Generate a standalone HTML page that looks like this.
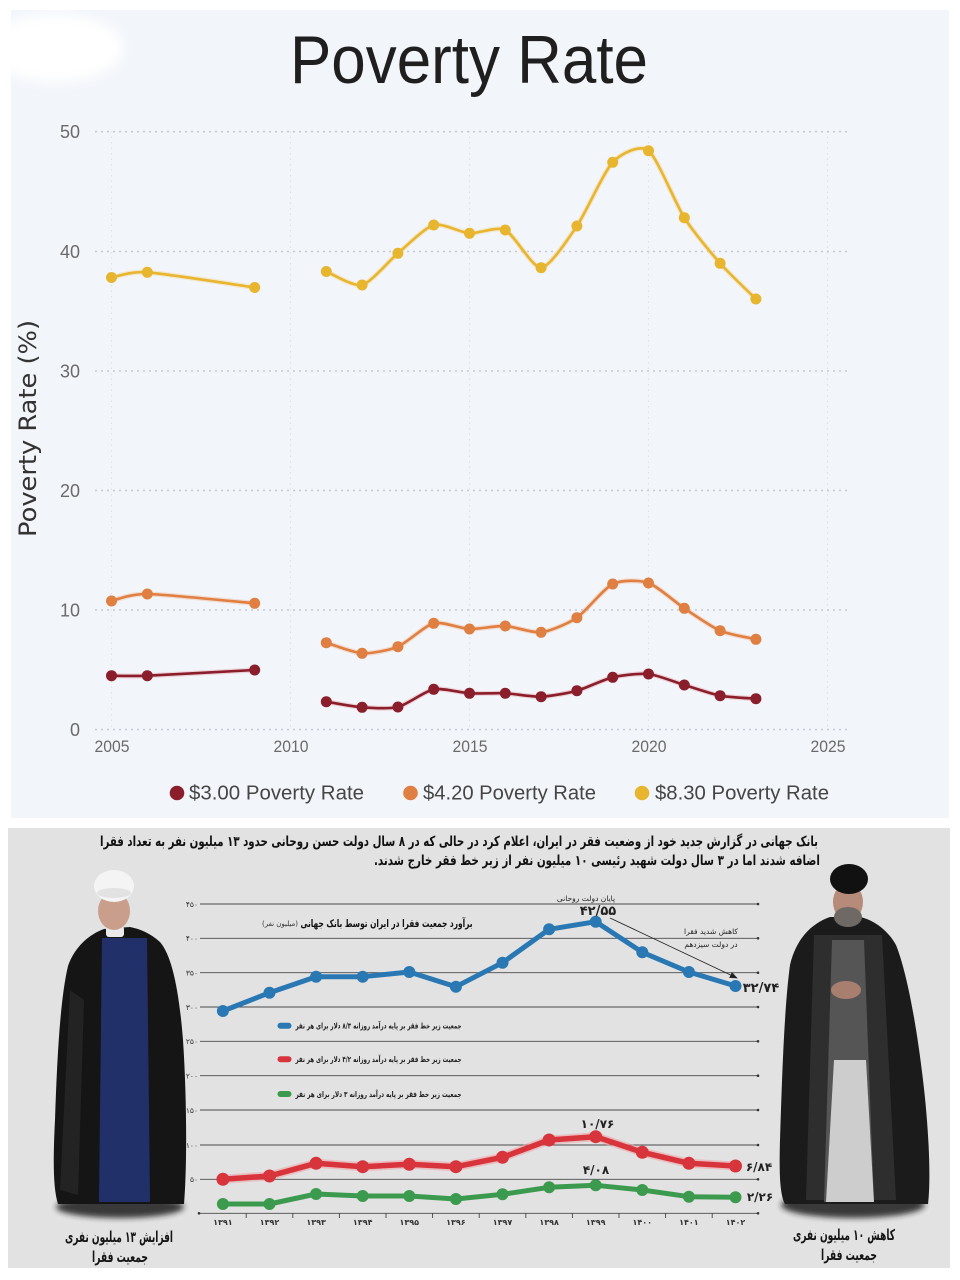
<!DOCTYPE html>
<html><head><meta charset="utf-8">
<style>
html,body{margin:0;padding:0;background:#fff;}
svg{display:block;}
.fa{font-family:"DejaVu Sans","Noto Sans CJK SC",sans-serif;}
.la{font-family:"Liberation Sans",sans-serif;}
</style></head>
<body>
<svg id="s" width="960" height="1280" viewBox="0 0 960 1280" xmlns="http://www.w3.org/2000/svg">
<defs>
  <filter id="bl" x="-50%" y="-50%" width="200%" height="200%"><feGaussianBlur stdDeviation="6"/></filter>
  <filter id="bl2" x="-50%" y="-50%" width="200%" height="200%"><feGaussianBlur stdDeviation="3"/></filter>
  <marker id="mY" viewBox="-7 -7 14 14" markerWidth="14" markerHeight="14" markerUnits="userSpaceOnUse"><circle r="5.5" fill="#e8b52f"/></marker>
  <marker id="mO" viewBox="-7 -7 14 14" markerWidth="14" markerHeight="14" markerUnits="userSpaceOnUse"><circle r="5.5" fill="#df7f41"/></marker>
  <marker id="mR" viewBox="-7 -7 14 14" markerWidth="14" markerHeight="14" markerUnits="userSpaceOnUse"><circle r="5.5" fill="#8a1e2b"/></marker>
  <marker id="mB" viewBox="-8 -8 16 16" markerWidth="16" markerHeight="16" markerUnits="userSpaceOnUse"><circle r="6" fill="#2a78b3"/></marker>
  <marker id="mRd" viewBox="-8 -8 16 16" markerWidth="16" markerHeight="16" markerUnits="userSpaceOnUse"><circle r="6.5" fill="#d8343c"/></marker>
  <marker id="mG" viewBox="-8 -8 16 16" markerWidth="16" markerHeight="16" markerUnits="userSpaceOnUse"><circle r="6" fill="#3c9a4f"/></marker>
  <marker id="arr" viewBox="0 0 10 10" refX="9" refY="5" markerWidth="8" markerHeight="8" orient="auto" markerUnits="userSpaceOnUse"><path d="M0,1 L10,5 L0,9 Z" fill="#222"/></marker>
</defs>

<!-- top panel -->
<rect x="0" y="0" width="960" height="1280" fill="#ffffff"/>
<rect x="11" y="10" width="938" height="808" fill="#f2f5fa"/>
<ellipse cx="55" cy="48" rx="68" ry="34" fill="#ffffff" filter="url(#bl)"/>
<rect x="0" y="70" width="11" height="750" fill="#fff"/>

<text x="469" y="83" class="la" font-size="68" fill="#1f1f1f" text-anchor="middle" textLength="358" lengthAdjust="spacingAndGlyphs">Poverty Rate</text>

<!-- vertical grid -->
<g stroke="#dde2ea" stroke-width="1.2" stroke-dasharray="1.5 4">
  <line x1="111.5" y1="131" x2="111.5" y2="729"/>
  <line x1="290.5" y1="131" x2="290.5" y2="729"/>
  <line x1="469.5" y1="131" x2="469.5" y2="729"/>
  <line x1="648.5" y1="131" x2="648.5" y2="729"/>
  <line x1="827.5" y1="131" x2="827.5" y2="729"/>
</g>
<!-- horizontal grid -->
<g stroke="#c4c9d3" stroke-width="1.6" stroke-dasharray="2 4">
  <line x1="95" y1="131.7" x2="848" y2="131.7"/>
  <line x1="95" y1="251.5" x2="848" y2="251.5"/>
  <line x1="95" y1="371" x2="848" y2="371"/>
  <line x1="95" y1="490.5" x2="848" y2="490.5"/>
  <line x1="95" y1="610" x2="848" y2="610"/>
  <line x1="95" y1="729.5" x2="848" y2="729.5"/>
</g>
<g class="la" font-size="18" fill="#6a6a6a" text-anchor="end">
  <text x="80" y="138">50</text>
  <text x="80" y="258">40</text>
  <text x="80" y="377.5">30</text>
  <text x="80" y="497">20</text>
  <text x="80" y="616.5">10</text>
  <text x="80" y="736">0</text>
</g>
<g class="la" font-size="17" fill="#6a6a6a" text-anchor="middle">
  <text x="112" y="752" textLength="35" lengthAdjust="spacingAndGlyphs">2005</text>
  <text x="291" y="752" textLength="35" lengthAdjust="spacingAndGlyphs">2010</text>
  <text x="470" y="752" textLength="35" lengthAdjust="spacingAndGlyphs">2015</text>
  <text x="649" y="752" textLength="35" lengthAdjust="spacingAndGlyphs">2020</text>
  <text x="828" y="752" textLength="35" lengthAdjust="spacingAndGlyphs">2025</text>
</g>
<text transform="translate(36,428.5) rotate(-90)" font-family="DejaVu Sans, sans-serif" font-size="24" fill="#333" text-anchor="middle" textLength="217" lengthAdjust="spacingAndGlyphs">Poverty Rate (%)</text>

<!-- series -->
<g fill="none" stroke-linejoin="round" stroke-linecap="round">
  <polyline class="sp" stroke="#f3d89a" stroke-width="5" opacity="0.5" points="111.5,277.5 147.3,272.3 254.7,287.5"/>
  <polyline class="sp" stroke="#f3d89a" stroke-width="5" opacity="0.5" points="326.3,271.5 362.1,285 397.9,253.3 433.7,225 469.5,233.3 505.3,230 541.1,267.7 576.9,226 612.7,162.3 648.5,150.7 684.3,217.7 720.1,263.3 755.9,299"/>
  <polyline class="sp" stroke="#e8b52f" stroke-width="2.6" marker-start="url(#mY)" marker-mid="url(#mY)" marker-end="url(#mY)" points="111.5,277.5 147.3,272.3 254.7,287.5"/>
  <polyline class="sp" stroke="#e8b52f" stroke-width="2.6" marker-start="url(#mY)" marker-mid="url(#mY)" marker-end="url(#mY)" points="326.3,271.5 362.1,285 397.9,253.3 433.7,225 469.5,233.3 505.3,230 541.1,267.7 576.9,226 612.7,162.3 648.5,150.7 684.3,217.7 720.1,263.3 755.9,299"/>

  <polyline class="sp" stroke="#f1c0a0" stroke-width="5" opacity="0.5" points="111.5,601 147.3,594 254.7,603.3"/>
  <polyline class="sp" stroke="#f1c0a0" stroke-width="5" opacity="0.5" points="326.3,642.7 362.1,653.3 397.9,646.7 433.7,623.3 469.5,629 505.3,626 541.1,632.3 576.9,617.7 612.7,584 648.5,583 684.3,608.3 720.1,630.7 755.9,639.3"/>
  <polyline class="sp" stroke="#df7f41" stroke-width="2.6" marker-start="url(#mO)" marker-mid="url(#mO)" marker-end="url(#mO)" points="111.5,601 147.3,594 254.7,603.3"/>
  <polyline class="sp" stroke="#df7f41" stroke-width="2.6" marker-start="url(#mO)" marker-mid="url(#mO)" marker-end="url(#mO)" points="326.3,642.7 362.1,653.3 397.9,646.7 433.7,623.3 469.5,629 505.3,626 541.1,632.3 576.9,617.7 612.7,584 648.5,583 684.3,608.3 720.1,630.7 755.9,639.3"/>

  <polyline class="sp" stroke="#e6a7ad" stroke-width="5" opacity="0.45" points="111.5,675.7 147.3,675.7 254.7,670"/>
  <polyline class="sp" stroke="#e6a7ad" stroke-width="5" opacity="0.45" points="326.3,701.7 362.1,707.3 397.9,707 433.7,689.3 469.5,693.3 505.3,693.3 541.1,696.7 576.9,690.7 612.7,677.3 648.5,674 684.3,685 720.1,695.7 755.9,698.7"/>
  <polyline class="sp" stroke="#8a1e2b" stroke-width="2.6" marker-start="url(#mR)" marker-mid="url(#mR)" marker-end="url(#mR)" points="111.5,675.7 147.3,675.7 254.7,670"/>
  <polyline class="sp" stroke="#8a1e2b" stroke-width="2.6" marker-start="url(#mR)" marker-mid="url(#mR)" marker-end="url(#mR)" points="326.3,701.7 362.1,707.3 397.9,707 433.7,689.3 469.5,693.3 505.3,693.3 541.1,696.7 576.9,690.7 612.7,677.3 648.5,674 684.3,685 720.1,695.7 755.9,698.7"/>
</g>

<!-- legend -->
<circle cx="177" cy="793" r="7.3" fill="#8a1e2b"/>
<circle cx="410.5" cy="793" r="7.3" fill="#df7f41"/>
<circle cx="642" cy="793" r="7.3" fill="#e8b52f"/>
<g class="la" font-size="20.5" fill="#454545">
  <text x="189" y="799.5" textLength="175" lengthAdjust="spacingAndGlyphs">$3.00 Poverty Rate</text>
  <text x="423" y="799.5" textLength="173" lengthAdjust="spacingAndGlyphs">$4.20 Poverty Rate</text>
  <text x="655" y="799.5" textLength="174" lengthAdjust="spacingAndGlyphs">$8.30 Poverty Rate</text>
</g>

<!-- bottom panel -->
<rect x="8" y="828" width="942" height="440" fill="#e2e2e2"/>

<g class="fa" font-weight="bold" fill="#111" text-anchor="middle" direction="rtl">
  <text x="459" y="846" font-size="14" direction="rtl" textLength="718" lengthAdjust="spacingAndGlyphs">بانک جهانی در گزارش جدید خود از وضعیت فقر در ایران، اعلام کرد در حالی که در ۸ سال دولت حسن روحانی حدود ۱۳ میلیون نفر به تعداد فقرا</text>
  <text x="597" y="865" font-size="14" direction="rtl" textLength="446" lengthAdjust="spacingAndGlyphs">اضافه شدند اما در ۳ سال دولت شهید رئیسی ۱۰ میلیون نفر از زیر خط فقر خارج شدند.</text>
</g>

<!-- gridlines bottom chart -->
<g stroke="#4a4a4a" stroke-width="0.9">
  <line x1="200" y1="904" x2="758" y2="904"/>
  <line x1="200" y1="938.3" x2="758" y2="938.3"/>
  <line x1="200" y1="972.7" x2="758" y2="972.7"/>
  <line x1="200" y1="1007" x2="758" y2="1007"/>
  <line x1="200" y1="1041.3" x2="758" y2="1041.3"/>
  <line x1="200" y1="1075.7" x2="758" y2="1075.7"/>
  <line x1="200" y1="1110" x2="758" y2="1110"/>
  <line x1="200" y1="1145" x2="758" y2="1145"/>
  <line x1="200" y1="1179.3" x2="758" y2="1179.3"/>
  <line x1="200" y1="1213.3" x2="758" y2="1213.3"/>
</g>
<g fill="#333">
  <circle cx="758" cy="904" r="1.3"/><circle cx="758" cy="938.3" r="1.3"/><circle cx="758" cy="972.7" r="1.3"/>
  <circle cx="758" cy="1007" r="1.3"/><circle cx="758" cy="1041.3" r="1.3"/><circle cx="758" cy="1075.7" r="1.3"/>
  <circle cx="758" cy="1110" r="1.3"/><circle cx="758" cy="1145" r="1.3"/><circle cx="758" cy="1179.3" r="1.3"/>
  <circle cx="758" cy="1213.3" r="1.3"/><circle cx="199" cy="1213.3" r="1.3"/>
</g>
<g stroke="#444" stroke-width="0.9">
  <line x1="246.2" y1="1213" x2="246.2" y2="1218"/><line x1="292.8" y1="1213" x2="292.8" y2="1218"/>
  <line x1="339.4" y1="1213" x2="339.4" y2="1218"/><line x1="386" y1="1213" x2="386" y2="1218"/>
  <line x1="432.6" y1="1213" x2="432.6" y2="1218"/><line x1="479.2" y1="1213" x2="479.2" y2="1218"/>
  <line x1="525.8" y1="1213" x2="525.8" y2="1218"/><line x1="572.4" y1="1213" x2="572.4" y2="1218"/>
  <line x1="619" y1="1213" x2="619" y2="1218"/><line x1="665.6" y1="1213" x2="665.6" y2="1218"/>
  <line x1="712.2" y1="1213" x2="712.2" y2="1218"/>
</g>
<g class="fa" font-size="7.5" fill="#333" text-anchor="end">
  <text x="198" y="907">۴۵۰</text>
  <text x="198" y="941">۴۰۰</text>
  <text x="198" y="975.5">۳۵۰</text>
  <text x="198" y="1010">۳۰۰</text>
  <text x="198" y="1044">۲۵۰</text>
  <text x="198" y="1078.5">۲۰۰</text>
  <text x="198" y="1113">۱۵۰</text>
  <text x="198" y="1148">۱۰۰</text>
  <text x="198" y="1182">۵۰</text>
</g>
<g class="fa" font-size="8" font-weight="bold" fill="#333" text-anchor="middle">
  <text x="222.9" y="1225">۱۳۹۱</text>
  <text x="269.5" y="1225">۱۳۹۲</text>
  <text x="316.1" y="1225">۱۳۹۳</text>
  <text x="362.7" y="1225">۱۳۹۴</text>
  <text x="409.3" y="1225">۱۳۹۵</text>
  <text x="455.9" y="1225">۱۳۹۶</text>
  <text x="502.5" y="1225">۱۳۹۷</text>
  <text x="549.1" y="1225">۱۳۹۸</text>
  <text x="595.7" y="1225">۱۳۹۹</text>
  <text x="642.3" y="1225">۱۴۰۰</text>
  <text x="688.9" y="1225">۱۴۰۱</text>
  <text x="735.5" y="1225">۱۴۰۲</text>
</g>

<!-- subtitle -->
<text x="386.5" y="927" class="fa" font-size="10.5" font-weight="bold" fill="#111" text-anchor="middle" direction="rtl" textLength="172" lengthAdjust="spacingAndGlyphs">برآورد جمعیت فقرا در ایران توسط بانک جهانی</text>
<text x="280" y="926" class="fa" font-size="7" fill="#333" text-anchor="middle" direction="rtl" textLength="36" lengthAdjust="spacingAndGlyphs">(میلیون نفر)</text>

<!-- legend bottom -->
<rect x="277.5" y="1022.7" width="14" height="6" rx="3" fill="#2a78b3"/>
<rect x="277.5" y="1056.3" width="14" height="6" rx="3" fill="#d8343c"/>
<rect x="277.5" y="1091" width="14" height="6" rx="3" fill="#3c9a4f"/>
<g class="fa" font-size="8" font-weight="bold" fill="#222" text-anchor="middle" direction="rtl">
  <text x="378.5" y="1028.5" direction="rtl" textLength="166" lengthAdjust="spacingAndGlyphs">جمعیت زیر خط فقر بر پایه درآمد روزانه ۸/۳ دلار برای هر نفر</text>
  <text x="378.5" y="1062" direction="rtl" textLength="166" lengthAdjust="spacingAndGlyphs">جمعیت زیر خط فقر بر پایه درآمد روزانه ۴/۲ دلار برای هر نفر</text>
  <text x="378.5" y="1097" direction="rtl" textLength="166" lengthAdjust="spacingAndGlyphs">جمعیت زیر خط فقر بر پایه درآمد روزانه ۳ دلار برای هر نفر</text>
</g>

<!-- bottom series -->
<g fill="none" stroke-linejoin="round" stroke-linecap="round">
  <polyline stroke="#2a78b3" stroke-width="5" marker-start="url(#mB)" marker-mid="url(#mB)" marker-end="url(#mB)" points="222.9,1011 269.5,992.7 316.1,976.7 362.7,976.7 409.3,972 455.9,986.7 502.5,962.7 549.1,929.3 595.7,921.7 642.3,952.3 688.9,972 735.5,986"/>
  <polyline stroke="#f0a0a4" stroke-width="9" opacity="0.55" points="222.9,1179.3 269.5,1176 316.1,1163.3 362.7,1166.7 409.3,1164.3 455.9,1166.7 502.5,1157.3 549.1,1140 595.7,1136.7 642.3,1152.3 688.9,1163.3 735.5,1166"/>
  <polyline stroke="#d8343c" stroke-width="5.5" marker-start="url(#mRd)" marker-mid="url(#mRd)" marker-end="url(#mRd)" points="222.9,1179.3 269.5,1176 316.1,1163.3 362.7,1166.7 409.3,1164.3 455.9,1166.7 502.5,1157.3 549.1,1140 595.7,1136.7 642.3,1152.3 688.9,1163.3 735.5,1166"/>
  <polyline stroke="#3c9a4f" stroke-width="5" marker-start="url(#mG)" marker-mid="url(#mG)" marker-end="url(#mG)" points="222.9,1204 269.5,1204 316.1,1194 362.7,1196 409.3,1196 455.9,1199 502.5,1194.3 549.1,1187.3 595.7,1185.3 642.3,1190 688.9,1196.7 735.5,1197.3"/>
</g>

<!-- annotations -->
<line x1="610" y1="918" x2="737" y2="978" stroke="#222" stroke-width="0.9" marker-end="url(#arr)"/>
<g class="fa" fill="#222" text-anchor="middle" direction="rtl">
  <text x="586" y="901" font-size="7.5" direction="rtl">پایان دولت روحانی</text>
  <text x="598" y="915" font-size="13" font-weight="bold">۴۲/۵۵</text>
  <text x="711" y="934" font-size="7.5" direction="rtl">کاهش شدید فقرا</text>
  <text x="711" y="947" font-size="7.5" direction="rtl">در دولت سیزدهم</text>
  <text x="761" y="992" font-size="13" font-weight="bold">۳۲/۷۴</text>
  <text x="597.5" y="1128" font-size="12" font-weight="bold">۱۰/۷۶</text>
  <text x="759" y="1171" font-size="12" font-weight="bold">۶/۸۴</text>
  <text x="596" y="1174" font-size="12" font-weight="bold">۴/۰۸</text>
  <text x="760" y="1201" font-size="12" font-weight="bold">۲/۲۶</text>
</g>

<!-- left figure -->
<ellipse cx="120" cy="1207" rx="64" ry="11" fill="#1e1e1e" opacity="0.85" filter="url(#bl2)"/>
<path d="M104,929 C90,934 75,946 68,966 C60,1000 57,1060 55,1120 C53,1160 53,1188 58,1204 L184,1204 C187,1170 187,1100 183,1040 C179,990 172,956 160,942 C150,933 140,929 130,927 Z" fill="#151515"/>
<path d="M102,938 L147,938 L150,1202 L99,1202 Z" fill="#22306a"/>
<path d="M70,990 L60,1190 L78,1195 L84,1000 Z" fill="#2a2a2a" opacity="0.7"/>
<rect x="106" y="926" width="18" height="11" rx="3" fill="#eaeaea"/>
<ellipse cx="114" cy="911" rx="16" ry="19" fill="#c99e8a"/>
<ellipse cx="114" cy="886" rx="20" ry="16" fill="#f4f4f4"/>
<ellipse cx="114" cy="893" rx="17" ry="5" fill="#e2e2e2"/>

<!-- right figure -->
<ellipse cx="853" cy="1205" rx="72" ry="13" fill="#1e1e1e" opacity="0.85" filter="url(#bl2)"/>
<path d="M830,917 C810,924 796,940 790,965 C784,1010 782,1080 780,1140 C779,1175 780,1195 785,1204 L928,1204 C931,1180 929,1130 923,1080 C916,1020 906,970 896,945 C886,927 870,919 860,917 Z" fill="#1b1b1b"/>
<path d="M814,935 L882,935 L896,1200 L806,1200 Z" fill="#2e2e2e"/>
<path d="M832,940 L864,940 L874,1202 L824,1202 Z" fill="#555"/>
<path d="M834,1060 L866,1060 L874,1202 L826,1202 Z" fill="#cdcdcd"/>
<ellipse cx="846" cy="990" rx="15" ry="9" fill="#a87e6e"/>
<ellipse cx="848" cy="902" rx="15" ry="19" fill="#b68b79"/>
<ellipse cx="848" cy="917" rx="14" ry="10" fill="#6f6966"/>
<ellipse cx="849" cy="879" rx="19" ry="15" fill="#111"/>

<!-- captions -->
<g class="fa" font-size="15" font-weight="bold" fill="#151515" text-anchor="middle" direction="rtl">
  <text x="119" y="1242" direction="rtl" textLength="108" lengthAdjust="spacingAndGlyphs">افزایش ۱۳ میلیون نفری</text>
  <text x="120" y="1262" direction="rtl" textLength="56" lengthAdjust="spacingAndGlyphs">جمعیت فقرا</text>
  <text x="844" y="1240" direction="rtl" textLength="102" lengthAdjust="spacingAndGlyphs">کاهش ۱۰ میلیون نفری</text>
  <text x="849" y="1260" direction="rtl" textLength="56" lengthAdjust="spacingAndGlyphs">جمعیت فقرا</text>
</g>
</svg>
<script>
(function(){
  var ns="http://www.w3.org/2000/svg";
  var pls=document.querySelectorAll("polyline.sp");
  for(var i=0;i<pls.length;i++){
    var pl=pls[i];
    var raw=pl.getAttribute("points").trim().split(/\s+/).map(function(s){var a=s.split(",");return [parseFloat(a[0]),parseFloat(a[1])];});
    var d="M"+raw[0][0]+","+raw[0][1];
    var t=0.12;
    for(var k=0;k<raw.length-1;k++){
      var p0=raw[k-1]||raw[k], p1=raw[k], p2=raw[k+1], p3=raw[k+2]||raw[k+1];
      var c1x=p1[0]+(p2[0]-p0[0])*t, c1y=p1[1]+(p2[1]-p0[1])*t;
      var c2x=p2[0]-(p3[0]-p1[0])*t, c2y=p2[1]-(p3[1]-p1[1])*t;
      d+=" C"+c1x.toFixed(2)+","+c1y.toFixed(2)+" "+c2x.toFixed(2)+","+c2y.toFixed(2)+" "+p2[0]+","+p2[1];
    }
    var p=document.createElementNS(ns,"path");
    for(var j=0;j<pl.attributes.length;j++){var at=pl.attributes[j]; if(at.name!=="points"&&at.name!=="class") p.setAttribute(at.name,at.value);}
    p.setAttribute("d",d);
    pl.parentNode.replaceChild(p,pl);
  }
})();
</script>
</body></html>
